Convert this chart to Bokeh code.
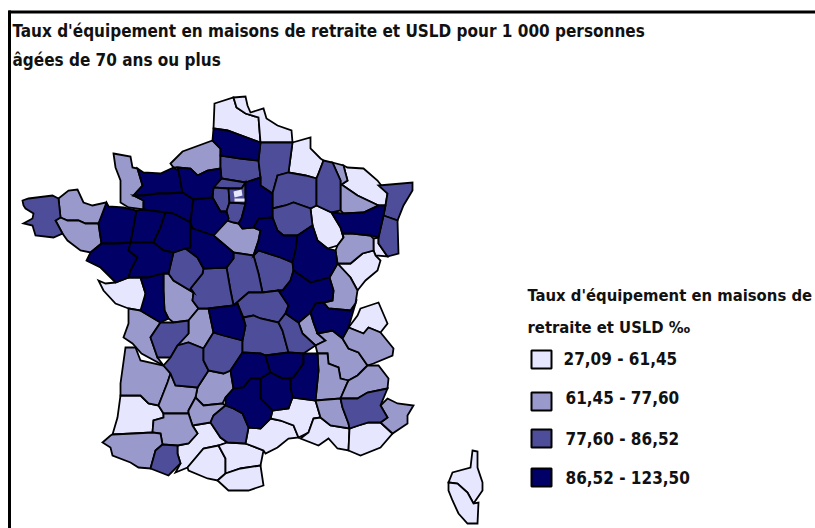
from bokeh.plotting import figure
from bokeh.models import Range1d, ColumnDataSource
from bokeh.core.properties import value
from bokeh.embed import file_html
from bokeh.resources import INLINE

TITLE_LINES = ["Taux d'équipement en maisons de retraite et USLD pour 1 000 personnes",
               "âgées de 70 ans ou plus"]
LEGEND_TITLE = ["Taux d'équipement en maisons de", "retraite et USLD  ‰"]
CLASS_LABELS = ["27,09 - 61,45", "61,45 - 77,60", "77,60 - 86,52", "86,52 - 123,50"]
CLASS_COLORS = ["#E6E6FF", "#9999CC", "#4D4D99", "#000066"]

# Department outlines per class, x,y pairs.
CLASS_0 = {
 "Pas-de-Calais": [214,103,233,97,236,107,245,113,258,117,260,142,227,130,213,128],
 "Nord": [233,97,245,96,247,105,250,112,263,108,266,118,277,125,291,130,292,142,260,142,258,117,245,113,236,107],
 "Ardennes": [292,142,310,137,310,148,320,158,323,160,318,173,316,178,305,175,288,172],
 "Moselle": [343,165,347,167,363,168,377,180,387,193,385,205,378,205,357,195,341,184,347,180],
 "Haute-Marne": [310,208,316,205,331,212,340,227,343,237,337,245,327,248,317,240,312,225],
 "Belfort": [373,238,378,237,378,243,387,256,375,255,373,250],
 "Doubs": [337,263,350,263,362,253,373,250,375,255,380,260,377,270,365,280,357,290,350,277],
 "Vendee": [98,280,105,283,115,282,128,277,140,277,145,293,143,307,140,310,128,308,115,303,103,290],
 "Landes": [120,395,140,395,148,403,158,405,163,413,163,417,153,420,152,432,133,433,112,434,117,417],
 "Haute-Garonne": [192,425,210,422,220,437,227,442,218,445,203,448,187,467,175,472,180,463,177,453,177,445,188,443,197,433],
 "Ariege": [187,467,203,448,218,445,225,458,225,473,217,480,207,478,188,470],
 "Aude": [218,445,227,442,245,443,263,450,260,465,240,468,225,473,225,458],
 "Pyrenees-Orientales": [217,480,225,473,240,468,260,465,263,485,248,490,228,490],
 "Herault": [245,443,248,427,260,428,270,418,280,420,293,425,298,437,288,438,277,447,265,453,263,450],
 "Gard": [272,410,288,408,292,397,315,400,320,417,313,418,308,432,298,437,293,425,280,420,270,418],
 "Bouches-du-Rhone": [313,418,320,417,330,425,349,428,348,450,337,448,328,438,318,445,300,438,308,432],
 "Var": [349,428,358,425,368,422,380,422,392,433,380,447,360,455,348,450],
 "Haute-Savoie": [360,308,378,302,387,323,380,332,368,327,363,333,348,327,357,315],
 "Haute-Corse": [472,450,477,451,477,467,482,482,482,490,473,503,467,492,457,483,448,482,452,472,470,467],
 "Corse-du-Sud": [448,482,457,483,467,492,473,503,478,502,477,523,467,523,458,513,452,500,448,490],
}
CLASS_1 = {
 "Manche": [113,153,130,156,132,167,137,168,142,185,133,195,143,200,143,209,128,207,120,202,120,180,115,167],
 "Seine-Maritime": [170,163,182,151,212,140,220,148,220,155,220,168,207,170,197,175,190,168,177,167,173,167],
 "Cotes-d'Armor": [58,198,68,190,77,189,83,202,92,205,105,202,108,206,98,223,85,223,78,220,67,220,60,217],
 "Morbihan": [55,220,60,217,67,220,78,220,85,223,98,223,101,243,90,252,80,250,67,240,62,233],
 "Loiret": [213,235,226,220,233,222,238,223,242,228,253,227,260,230,258,240,253,255,233,252],
 "Meurthe-et-Moselle": [332,162,343,165,347,180,341,184,357,195,378,205,363,212,343,213,340,210,340,180],
 "Haute-Saone": [337,245,343,237,342,233,352,233,370,235,373,238,373,250,362,253,350,263,337,263,335,250],
 "Jura": [337,263,350,277,357,290,355,303,350,310,328,308,323,302,332,300,333,290,329,277],
 "Vienne": [163,273,168,273,173,280,193,292,192,300,198,308,188,320,173,322,168,318,164,310,163,290],
 "Charente-Maritime": [128,308,140,310,160,322,150,337,157,357,163,365,141,353,132,343,123,337,128,323],
 "Gironde": [125,347,135,347,140,360,163,365,170,373,167,382,158,405,148,403,140,395,120,395,120,383],
 "Haute-Vienne": [188,320,198,308,208,308,213,332,203,348,188,342,177,345,188,333],
 "Lot": [208,370,223,373,230,370,233,388,225,397,222,403,203,405,195,397,197,387],
 "Lot-et-Garonne": [170,373,175,385,197,387,195,397,188,410,188,413,163,413,158,405,167,382],
 "Tarn-et-Garonne": [188,410,195,397,203,405,222,403,225,405,213,415,210,422,192,425,188,413],
 "Gers": [163,413,188,413,192,425,197,433,188,443,177,445,162,444,160,433,152,432,153,420,163,417],
 "Pyrenees-Atlantiques": [102,442,110,435,112,434,133,433,152,432,160,433,162,444,155,450,150,468,138,467,130,462,112,455,110,447],
 "Rhone": [298,322,310,312,313,322,317,333,325,340,315,345,302,333],
 "Isere": [317,333,332,330,342,338,348,348,358,352,367,365,357,375,348,380,340,378,338,367,328,363,327,353,317,353,315,345,325,340],
 "Savoie": [342,338,348,327,363,333,368,327,380,332,393,348,392,355,373,363,367,365,358,352,348,348],
 "Drome": [317,353,327,353,328,363,338,367,340,378,348,380,347,382,340,398,315,400,318,370],
 "Hautes-Alpes": [367,365,378,365,388,378,387,388,367,392,357,398,340,398,347,382,348,380,357,375],
 "Alpes-Maritimes": [387,398,397,403,413,405,407,415,407,423,392,433,380,422,387,417,380,405],
 "Vaucluse": [315,400,340,398,342,407,348,423,349,428,330,425,320,417],
}
CLASS_2 = {
 "Finistere": [22,200,28,198,52,195,58,198,60,217,55,220,62,233,53,237,35,235,32,225,23,223,32,218,33,213,25,208,23,205],
 "Oise": [220,155,240,158,258,160,260,177,245,182,221,178,220,168],
 "Val-d'Oise": [221,178,245,182,241,188,228,188,213,187],
 "Yvelines": [213,187,228,188,229,202,226,211,220,211,212,197],
 "Essonne": [229,202,245,203,241,218,238,223,233,222,227,220,228,218,226,211],
 "Petite-Couronne": [228,188,241,188,245,182,245,203,229,202],
 "Aisne": [260,142,292,142,288,172,277,175,272,193,260,185,260,177,258,160],
 "Marne": [277,175,288,172,305,175,316,178,316,205,310,208,293,202,285,205,272,208,272,193],
 "Meuse": [323,160,332,162,340,180,340,210,331,212,316,205,316,178,318,173],
 "Aube": [272,208,285,205,293,202,310,208,312,225,297,235,283,235,277,230,272,217],
 "Bas-Rhin": [378,185,412,182,412,190,403,205,397,220,383,215,385,205,387,193],
 "Haut-Rhin": [383,215,397,220,398,253,387,256,378,243,378,237],
 "Nievre": [253,255,258,250,280,257,292,262,293,270,290,280,282,290,278,290,262,292,258,273],
 "Cher": [226,267,233,258,233,252,253,255,258,273,262,292,248,292,233,305,230,290],
 "Indre": [203,268,226,267,230,290,233,305,208,308,198,308,192,300,193,292,190,288,202,273],
 "Indre-et-Loire": [173,252,185,248,197,257,203,268,202,273,190,288,193,292,173,280,168,273],
 "Charente": [160,322,173,322,188,320,188,333,177,345,170,357,157,357,150,337],
 "Dordogne": [177,345,188,342,203,348,203,360,208,370,197,387,175,385,170,373,163,365,170,357],
 "Correze": [203,348,213,332,223,335,242,340,242,352,230,370,223,373,208,370,203,360],
 "Allier": [233,305,248,292,262,292,278,290,288,305,285,313,278,322,260,318,253,315,243,317,237,303],
 "Puy-de-Dome": [243,317,253,315,260,318,278,322,282,330,288,352,265,355,260,353,242,352,242,340,245,325],
 "Loire": [285,313,298,322,302,333,315,345,303,353,288,352,282,330,278,322],
 "Tarn": [213,415,225,405,233,408,242,413,248,427,245,443,227,442,220,437,210,422],
 "Hautes-Pyrenees": [162,444,177,445,177,453,180,463,168,475,150,468,155,450],
 "Alpes-de-Haute-Provence": [357,398,367,392,387,388,380,405,387,417,380,422,368,422,358,425,349,428,348,423,342,407,340,398],
}
CLASS_3 = {
 "Calvados": [137,168,143,172,160,173,173,167,178,170,182,192,167,193,157,193,143,195,133,195,142,185],
 "Eure": [177,167,190,168,197,175,207,170,220,168,221,178,213,187,212,197,193,199,182,192,178,170],
 "Orne": [133,195,143,195,157,193,167,193,182,192,193,199,192,205,190,222,173,213,165,212,143,209,143,200],
 "Ille-et-Vilaine": [106,202,108,206,123,207,136,210,133,227,130,242,117,243,101,243,98,223],
 "Mayenne": [136,210,143,209,165,212,160,227,153,242,130,242,133,227],
 "Sarthe": [165,212,173,213,190,222,190,247,185,248,173,252,163,250,153,242,160,227],
 "Eure-et-Loir": [193,199,212,197,220,211,226,211,228,218,227,220,213,235,192,228,190,222,192,205],
 "Loir-et-Cher": [192,228,213,235,233,252,233,258,226,267,203,268,197,257,185,248,190,247,190,222],
 "Loire-Atlantique": [101,243,117,243,130,242,128,250,137,257,130,270,128,277,115,282,100,267,86,260,90,252],
 "Maine-et-Loire": [130,242,153,242,163,250,173,252,168,273,163,273,147,277,128,277,130,270,137,257,128,250],
 "Deux-Sevres": [140,277,147,277,163,273,163,290,164,310,168,318,160,322,140,310,145,293],
 "Somme": [213,128,227,130,260,142,258,160,240,158,220,155,220,148,212,140],
 "Seine-et-Marne": [245,182,260,177,260,185,272,193,272,217,258,218,253,227,242,228,238,223,241,218,245,203],
 "Vosges": [331,212,343,213,363,212,378,205,385,205,383,215,378,237,370,235,352,233,342,233,343,237,340,227],
 "Yonne": [253,227,258,218,272,217,277,230,283,235,297,235,295,250,292,262,280,257,258,250,253,255,258,240,260,230],
 "Cote-d'Or": [297,235,312,225,317,240,327,248,335,250,337,263,329,277,310,282,293,270,292,262,295,250],
 "Saone-et-Loire": [293,270,310,282,329,277,333,290,332,300,323,302,315,303,310,312,298,322,285,313,288,305,278,290,282,290,290,280],
 "Ain": [315,303,323,302,328,308,350,310,355,303,348,327,342,338,332,330,317,333,313,322,310,312],
 "Creuse": [208,308,233,305,237,303,245,325,242,340,223,335,213,332],
 "Cantal": [242,352,260,353,265,355,270,372,260,378,250,378,243,387,233,388,230,370],
 "Haute-Loire": [265,355,288,352,303,353,303,363,293,377,282,378,270,372],
 "Ardeche": [303,353,317,353,318,370,315,400,292,397,290,387,290,378,293,377,303,363],
 "Lozere": [260,378,270,372,282,378,290,378,290,387,292,397,288,408,272,410,260,398],
 "Aveyron": [225,397,233,388,243,387,250,378,260,378,260,398,272,410,270,418,260,428,248,427,242,413,233,408,225,405],
}
# the small central specks of Paris and its suburbs
CLASS_0_SPECKS = {
 "Paris": [233,191,241,189,242,195,234,197],
 "Val-de-Marne": [234,198,244,198,244,201,234,201],
}
CLASSES = [CLASS_0, CLASS_1, CLASS_2, CLASS_3]

W, H = 815, 528
p = figure(width=W, height=H, x_range=Range1d(0, W), y_range=Range1d(H, 0),
           toolbar_location=None, output_backend="svg", min_border=0)
p.axis.visible = False
p.grid.visible = False
p.outline_line_color = None

xs, ys, fills = [], [], []
for cls, outlines in enumerate(CLASSES):
    for name, pts in outlines.items():
        xs.append(pts[0::2])
        ys.append(pts[1::2])
        fills.append(CLASS_COLORS[cls])
p.patches(xs="xs", ys="ys", fill_color="fill", line_color="#000000", line_width=1.8, line_join="miter",
          source=ColumnDataSource(dict(xs=xs, ys=ys, fill=fills)))
p.patches(xs=[v[0::2] for v in CLASS_0_SPECKS.values()], ys=[v[1::2] for v in CLASS_0_SPECKS.values()],
          fill_color=CLASS_COLORS[0], line_color=None)

p.line([9, 9], [10, 528], line_color="#000000", line_width=3)
p.line([8, 815], [11.5, 11.5], line_color="#000000", line_width=3)

FONT = value("'DejaVu Sans Condensed', Roboto, sans-serif")
p.text([12, 12], [30, 59], text=TITLE_LINES, text_font=FONT, text_font_size="17px", text_font_style="bold",
       text_baseline="middle", text_color="#111111")
p.text([527, 527], [295, 327], text=LEGEND_TITLE, text_font=FONT, text_font_size="16.5px", text_font_style="bold",
       text_baseline="middle", text_color="#111111")

LEGEND_Y = [359, 401, 438, 477]
p.rect([541] * 4, LEGEND_Y, width=[20] * 4, height=[18] * 4, fill_color=CLASS_COLORS, line_color="#000000", line_width=2)
p.text([563, 565, 565, 565], [358, 397, 438, 477], text=CLASS_LABELS, text_font=FONT, text_font_size="17px",
       text_font_style="bold", text_baseline="middle", text_color="#111111")

open("out.html", "w").write(file_html(p, INLINE))
